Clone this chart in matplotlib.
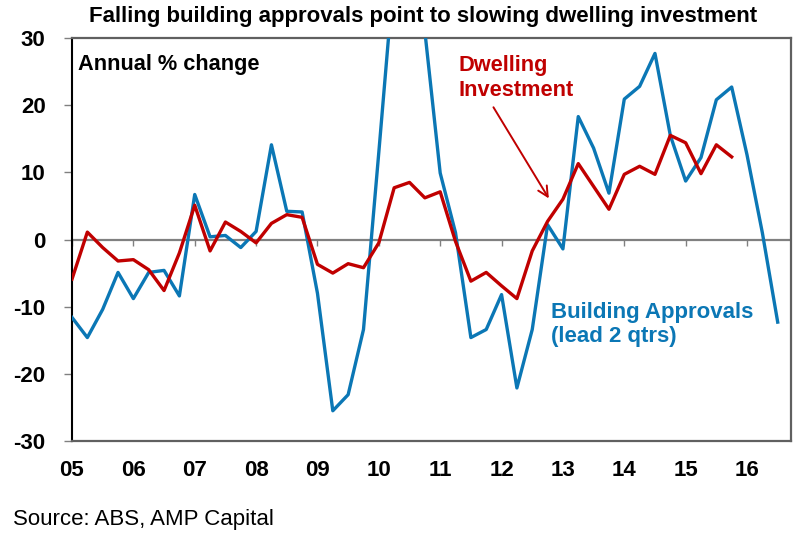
import numpy as np
import matplotlib
matplotlib.use("Agg")
import matplotlib.pyplot as plt

# quarterly data, starting Mar-2005
start_year = 2005
# building approvals, annual % change, led 2 quarters
approvals = [-11.6, -14.6, -10.4, -4.9, -8.8, -4.9, -4.6, -8.4,
             6.7, 0.4, 0.6, -1.2, 1.2, 14.1, 4.2, 4.1,
             -8.0, -25.5, -23.1, -13.4, 13.0, 40.0, 42.0, 31.0,
             9.9, 1.0, -14.6, -13.4, -8.2, -22.1, -13.4, 2.2,
             -1.4, 18.3, 13.6, 6.9, 20.9, 22.8, 27.7, 15.5,
             8.7, 12.2, 20.8, 22.7, 12.6, 1.0, -12.3]
# dwelling investment, annual % change
dwelling = [-5.9, 1.1, -1.2, -3.2, -3.0, -4.5, -7.6, -2.0,
            5.1, -1.7, 2.6, 1.2, -0.5, 2.4, 3.7, 3.3,
            -3.7, -5.0, -3.6, -4.2, -0.5, 7.7, 8.5, 6.2,
            7.1, -0.3, -6.2, -4.9, -6.9, -8.8, -1.7, 2.7,
            6.0, 11.3, 7.9, 4.5, 9.7, 10.9, 9.7, 15.5,
            14.4, 9.8, 14.1, 12.3]
years = list(range(2005, 2017))
year_labels = ["05", "06", "07", "08", "09", "10", "11", "12", "13", "14", "15", "16"]
y_ticks = [-30, -20, -10, 0, 10, 20, 30]

BLUE = "#0B77B5"
RED = "#C00000"

plt.rcParams["font.family"] = ["Liberation Sans", "DejaVu Sans"]
plt.rcParams["axes.unicode_minus"] = False

x_appr = start_year + np.arange(len(approvals)) / 4
x_dwel = start_year + np.arange(len(dwelling)) / 4

fig = plt.figure(figsize=(8, 5.45), dpi=100)
ax = fig.add_axes([0.09, 0.1908, 0.899, 0.7395])

ax.axhline(0, color="#808080", lw=1.6, zorder=1)
# small tick marks hanging from the zero line
ax.vlines(years, -0.9, 0, color="#808080", lw=1.0, zorder=1)

ax.plot(x_appr, approvals, color=BLUE, lw=2.4, zorder=3)
ax.plot(x_dwel, dwelling, color=RED, lw=2.4, zorder=4)

ax.set_xlim(2005, 2016.72)
ax.set_ylim(-30, 30)
ax.set_xticks(years)
ax.set_xticklabels(year_labels)
ax.set_yticks(y_ticks)
ax.tick_params(axis="x", length=0, pad=14, labelsize=16)
ax.tick_params(axis="y", length=6, width=1.0, color="#808080", pad=13, labelsize=16)
for lab in ax.get_xticklabels() + ax.get_yticklabels():
    lab.set_fontweight("bold")

ax.spines["left"].set_color("black")
ax.spines["left"].set_linewidth(1.5)
for s in ["top", "right", "bottom"]:
    ax.spines[s].set_color("#606060")
    ax.spines[s].set_linewidth(1.6)

ax.text(0.008, 0.933, "Annual % change", transform=ax.transAxes,
        fontsize=15.7, fontweight="bold", va="center", ha="left")
ax.text(0.537, 0.957, "Dwelling\nInvestment", transform=ax.transAxes,
        fontsize=15.7, fontweight="bold", color=RED, va="top", ha="left")
ax.annotate("", xy=(0.665, 0.596), xytext=(0.584, 0.834),
            xycoords="axes fraction", textcoords="axes fraction",
            arrowprops=dict(arrowstyle="->", color=RED, lw=1.4,
                            mutation_scale=18))
ax.text(0.666, 0.345, "Building Approvals\n(lead 2 qtrs)", transform=ax.transAxes,
        fontsize=16, fontweight="bold", color=BLUE, va="top", ha="left")

fig.text(0.529, 0.969, "Falling building approvals point to slowing dwelling investment",
         fontsize=16, fontweight="bold", ha="center", va="center")
fig.text(0.016, 0.046, "Source: ABS, AMP Capital", fontsize=16, ha="left", va="center")

fig.savefig("out.png", dpi=100)
